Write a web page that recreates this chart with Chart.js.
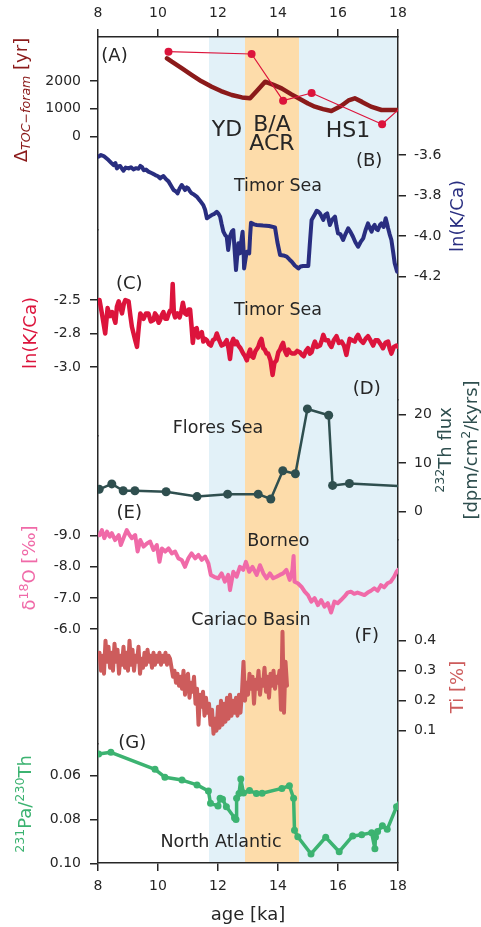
<!DOCTYPE html>
<html><head><meta charset="utf-8">
<script src="https://cdn.jsdelivr.net/npm/chart.js@4.4.1/dist/chart.umd.min.js"></script>
<style>html,body{margin:0;padding:0;background:#fff;}canvas{display:block;}</style>
</head><body>
<canvas id="c" width="481" height="927"></canvas>
<script>
// ---------------- DATA ----------------
const ageTicks = [8, 10, 12, 14, 16, 18];
const shadeBlue = [11.7, 18];
const shadeOrange = [12.9, 14.7];

// (A) Delta TOC-foram
const ageAforam = [10.35, 13.12, 14.17, 15.12, 17.47, 18.35];
const deltaAforam = [3052, 2970, 1293, 1569, 445, 1300];
const ageAsmooth = [10.30, 10.46, 10.80, 11.13, 11.45, 11.79, 12.10, 12.46, 12.80, 13.07, 13.30, 13.57, 13.85, 14.12, 14.45, 14.79, 15.00, 15.23, 15.50, 15.78, 16.10, 16.35, 16.56, 16.80, 17.10, 17.45, 17.95, 18.30];
const deltaAsmooth = [2815, 2693, 2450, 2215, 1990, 1795, 1640, 1497, 1410, 1378, 1650, 1975, 1860, 1736, 1520, 1318, 1190, 1077, 990, 923, 1100, 1300, 1378, 1250, 1080, 959, 959, 960];
const ticksA = [0, 1000, 2000];
const labelsA = ['0', '1000', '2000'];

// (B) Timor Sea ln(K/Ca)
const ageB = [8.02,8.10,8.19,8.27,8.35,8.45,8.52,8.58,8.63,8.69,8.74,8.80,8.85,8.92,9.02,9.10,9.18,9.27,9.35,9.41,9.47,9.52,9.60,9.68,9.80,9.91,10.00,10.07,10.13,10.18,10.27,10.35,10.45,10.52,10.60,10.65,10.72,10.79,10.85,10.90,10.96,11.01,11.07,11.12,11.20,11.29,11.40,11.51,11.57,11.63,11.70,11.79,11.88,11.96,12.02,12.07,12.12,12.18,12.24,12.29,12.34,12.40,12.46,12.51,12.55,12.60,12.64,12.68,12.73,12.78,12.82,12.85,12.87,12.92,12.96,13.04,13.07,13.10,13.20,13.29,13.50,13.70,13.90,13.98,14.07,14.18,14.29,14.38,14.46,14.56,14.68,14.75,14.84,15.01,15.06,15.12,15.20,15.29,15.35,15.40,15.46,15.51,15.57,15.64,15.69,15.73,15.80,15.90,15.95,16.00,16.08,16.17,16.25,16.34,16.42,16.50,16.58,16.67,16.75,16.84,16.92,17.00,17.06,17.12,17.17,17.22,17.28,17.33,17.40,17.45,17.52,17.59,17.63,17.67,17.72,17.78,17.84,17.89,17.97,18.05];
const kcaB = [-3.608,-3.600,-3.605,-3.615,-3.625,-3.640,-3.650,-3.640,-3.666,-3.655,-3.654,-3.668,-3.677,-3.662,-3.666,-3.660,-3.671,-3.665,-3.668,-3.654,-3.660,-3.675,-3.672,-3.682,-3.690,-3.699,-3.705,-3.715,-3.708,-3.704,-3.720,-3.730,-3.755,-3.773,-3.780,-3.789,-3.765,-3.748,-3.760,-3.773,-3.760,-3.765,-3.780,-3.789,-3.795,-3.805,-3.825,-3.847,-3.870,-3.912,-3.905,-3.896,-3.890,-3.880,-3.890,-3.904,-3.940,-3.978,-3.995,-4.003,-4.068,-4.000,-3.978,-3.970,-4.060,-4.167,-4.100,-4.035,-4.085,-4.020,-3.978,-4.060,-4.159,-4.110,-4.077,-4.085,-4.000,-3.934,-3.942,-3.945,-3.948,-3.950,-3.957,-4.030,-4.093,-4.095,-4.101,-4.115,-4.126,-4.145,-4.159,-4.150,-4.147,-4.147,-4.040,-3.920,-3.900,-3.875,-3.880,-3.888,-3.905,-3.920,-3.895,-3.888,-3.920,-3.945,-3.920,-3.904,-3.950,-3.986,-3.990,-4.019,-3.990,-3.961,-3.980,-4.003,-4.030,-4.052,-4.030,-4.011,-3.970,-3.937,-3.960,-3.978,-3.955,-3.945,-3.965,-3.970,-3.945,-3.937,-3.955,-3.912,-3.935,-3.961,-3.990,-4.019,-4.080,-4.134,-4.175,-4.175];
const ticksB = [-3.6, -3.8, -4.0, -4.2];
const labelsB = ['-3.6', '-3.8', '-4.0', '-4.2'];

// (C) Timor Sea ln(K/Ca)
const ageC = [8.05,8.13,8.24,8.32,8.40,8.47,8.58,8.63,8.69,8.80,8.86,8.91,9.02,9.08,9.13,9.24,9.30,9.36,9.41,9.52,9.60,9.68,9.76,9.85,9.90,9.96,10.02,10.07,10.13,10.18,10.24,10.30,10.36,10.40,10.45,10.49,10.53,10.57,10.65,10.72,10.78,10.83,10.90,10.96,11.02,11.07,11.12,11.16,11.22,11.29,11.34,11.40,11.46,11.51,11.57,11.63,11.70,11.76,11.83,11.90,11.96,12.04,12.12,12.20,12.29,12.35,12.40,12.46,12.51,12.57,12.62,12.68,12.75,12.84,12.90,12.96,13.02,13.07,13.12,13.18,13.25,13.34,13.40,13.45,13.51,13.56,13.62,13.67,13.75,13.82,13.88,13.95,14.01,14.07,14.12,14.17,14.23,14.29,14.35,14.40,14.48,14.56,14.64,14.73,14.80,14.86,14.93,15.00,15.06,15.12,15.18,15.23,15.30,15.40,15.46,15.51,15.58,15.67,15.72,15.78,15.86,15.95,16.03,16.12,16.20,16.28,16.33,16.39,16.47,16.56,16.61,16.67,16.75,16.84,16.92,17.00,17.08,17.17,17.25,17.33,17.42,17.50,17.58,17.67,17.72,17.78,17.86,17.95,18.00];
const kcaC = [-2.50,-2.60,-2.75,-2.56,-2.62,-2.59,-2.67,-2.55,-2.51,-2.60,-2.53,-2.50,-2.51,-2.62,-2.70,-2.80,-2.85,-2.70,-2.60,-2.64,-2.60,-2.60,-2.66,-2.65,-2.60,-2.62,-2.67,-2.65,-2.61,-2.59,-2.64,-2.64,-2.60,-2.58,-2.58,-2.38,-2.60,-2.63,-2.60,-2.63,-2.58,-2.52,-2.60,-2.61,-2.57,-2.57,-2.70,-2.82,-2.72,-2.71,-2.78,-2.76,-2.74,-2.81,-2.79,-2.80,-2.83,-2.84,-2.80,-2.79,-2.75,-2.80,-2.84,-2.83,-2.80,-2.86,-2.94,-2.82,-2.79,-2.83,-2.81,-2.84,-2.86,-2.90,-2.92,-2.95,-2.90,-2.87,-2.92,-2.93,-2.88,-2.85,-2.81,-2.79,-2.86,-2.87,-2.90,-2.90,-2.95,-3.06,-2.97,-2.95,-2.89,-2.87,-2.84,-2.82,-2.88,-2.91,-2.87,-2.89,-2.90,-2.90,-2.88,-2.89,-2.91,-2.92,-2.88,-2.86,-2.90,-2.89,-2.84,-2.81,-2.85,-2.84,-2.80,-2.76,-2.80,-2.80,-2.83,-2.85,-2.80,-2.77,-2.82,-2.81,-2.84,-2.91,-2.85,-2.79,-2.80,-2.81,-2.78,-2.76,-2.80,-2.82,-2.79,-2.77,-2.80,-2.84,-2.80,-2.80,-2.83,-2.86,-2.82,-2.81,-2.86,-2.90,-2.85,-2.84,-2.85];
const ticksC = [-2.5, -2.75, -3.0];
const labelsC = ['-2.5', '-2.8', '-3.0'];

// (D) Flores Sea 232Th flux
const ageD = [8.04, 8.46, 8.84, 9.23, 10.27, 11.30, 12.32, 13.34, 13.76, 14.16, 14.58, 14.98, 15.69, 15.82, 16.38, 18.60];
const thD = [4.6, 5.7, 4.3, 4.3, 4.1, 3.1, 3.6, 3.6, 2.6, 8.4, 7.8, 21.1, 19.8, 5.4, 5.8, 5.1];
const ticksD = [0, 10, 20];
const labelsD = ['0', '10', '20'];

// (E) Borneo d18O
const ageE = [8.05,8.13,8.21,8.30,8.39,8.46,8.57,8.69,8.76,8.87,8.96,9.05,9.13,9.24,9.32,9.41,9.52,9.63,9.74,9.85,9.96,10.05,10.13,10.24,10.35,10.46,10.57,10.68,10.79,10.90,11.01,11.12,11.24,11.35,11.46,11.57,11.68,11.76,11.87,12.01,12.12,12.23,12.34,12.40,12.51,12.62,12.73,12.84,12.93,13.04,13.15,13.29,13.40,13.51,13.62,13.73,13.84,13.95,14.06,14.17,14.28,14.39,14.48,14.52,14.55,14.66,14.78,14.89,15.00,15.11,15.22,15.33,15.44,15.55,15.66,15.77,15.88,15.99,16.10,16.21,16.32,16.43,16.54,16.65,16.77,16.88,16.99,17.10,17.21,17.32,17.43,17.54,17.65,17.76,17.87,17.95,18.00];
const d18oE = [-9.02,-9.18,-8.92,-9.13,-8.97,-9.08,-8.86,-9.02,-8.70,-8.97,-9.18,-9.02,-8.92,-9.02,-8.49,-8.86,-8.65,-8.75,-8.81,-8.54,-8.70,-8.16,-8.59,-8.49,-8.59,-8.43,-8.49,-8.27,-8.22,-8.00,-8.27,-8.43,-8.27,-8.38,-8.22,-8.33,-8.11,-7.74,-7.68,-7.63,-7.79,-7.52,-7.74,-7.25,-7.84,-7.68,-8.00,-7.90,-8.16,-7.84,-8.00,-7.74,-8.05,-7.79,-7.63,-7.79,-7.63,-7.68,-7.74,-7.79,-7.90,-7.58,-7.90,-8.35,-7.52,-7.47,-7.36,-7.20,-7.09,-6.88,-6.99,-6.77,-6.93,-6.72,-6.83,-6.53,-6.88,-6.83,-6.93,-7.04,-7.17,-7.20,-7.13,-7.17,-7.13,-7.09,-7.17,-7.23,-7.31,-7.23,-7.41,-7.34,-7.47,-7.52,-7.68,-7.84,-7.90];
const ticksE = [-9, -8, -7, -6];
const labelsE = ['-9.0', '-8.0', '-7.0', '-6.0'];

// (F) Cariaco Basin Ti
const ageF = [8.05,8.10,8.15,8.20,8.25,8.30,8.35,8.40,8.45,8.50,8.55,8.60,8.65,8.70,8.75,8.80,8.85,8.90,8.95,9.00,9.05,9.10,9.15,9.20,9.25,9.30,9.35,9.40,9.45,9.50,9.55,9.60,9.65,9.70,9.75,9.80,9.85,9.90,9.95,10.00,10.05,10.10,10.15,10.20,10.25,10.30,10.35,10.40,10.45,10.50,10.55,10.60,10.65,10.70,10.75,10.80,10.85,10.90,10.95,11.00,11.05,11.10,11.15,11.20,11.25,11.30,11.35,11.40,11.45,11.50,11.55,11.60,11.65,11.70,11.75,11.80,11.85,11.90,11.95,12.00,12.05,12.10,12.15,12.20,12.25,12.30,12.35,12.40,12.45,12.50,12.55,12.60,12.65,12.70,12.75,12.80,12.85,12.90,12.95,13.00,13.05,13.10,13.15,13.20,13.25,13.30,13.35,13.40,13.45,13.50,13.55,13.60,13.65,13.70,13.75,13.80,13.85,13.90,13.95,14.00,14.05,14.10,14.15,14.20,14.25,14.30];
const tiF = [0.36,0.30,0.35,0.29,0.40,0.33,0.38,0.31, 0.36,0.30,0.39,0.33,0.37,0.29,0.35,0.32, 0.38,0.31,0.36,0.30,0.40,0.32,0.37,0.30, 0.35,0.33,0.38,0.29,0.34,0.31,0.36,0.32, 0.37,0.33,0.35,0.31,0.36,0.32,0.35,0.33, 0.36,0.32,0.35,0.33,0.36,0.32,0.35,0.34, 0.31,0.28,0.30,0.26,0.29,0.25,0.28,0.24, 0.30,0.22,0.27,0.29,0.21,0.26,0.23,0.28, 0.19,0.24,0.12,0.22,0.18,0.23,0.15,0.21, 0.16,0.19,0.12,0.17,0.09,0.14,0.10,0.18, 0.11,0.20,0.12,0.19,0.13,0.21,0.14,0.22, 0.15,0.20,0.16,0.21,0.15,0.22,0.16,0.23, 0.33,0.20,0.26,0.22,0.29,0.24,0.28,0.19, 0.27,0.24,0.30,0.22,0.27,0.25,0.31,0.23, 0.28,0.21,0.29,0.25,0.30,0.24,0.28,0.26, 0.30,0.17,0.43,0.16,0.33,0.25];
const ticksF = [0.1, 0.2, 0.3, 0.4];
const labelsF = ['0.1', '0.2', '0.3', '0.4'];

// (G) North Atlantic 231Pa/230Th
const ageG = [8.02,8.43,9.90,10.23,10.80,11.30,11.68,11.75,12.00,12.07,12.15,12.28,12.55,12.60,12.62,12.70,12.76,12.85,13.05,13.28,13.47,14.13,14.38,14.52,14.55,14.66,15.10,15.59,16.04,16.49,16.79,17.12,17.23,17.25,17.32,17.48,17.64,17.95,18.20];
const paG = [0.0501,0.0493,0.0571,0.0607,0.0620,0.0642,0.0670,0.0726,0.0738,0.0703,0.0707,0.0742,0.0792,0.0800,0.0703,0.0681,0.0615,0.0679,0.0668,0.0681,0.0680,0.0658,0.0646,0.0703,0.0849,0.0879,0.0957,0.0881,0.0947,0.0875,0.0870,0.0860,0.0933,0.0880,0.0855,0.0829,0.0845,0.0742,0.0680];
const ticksG = [0.06, 0.08, 0.10];
const labelsG = ['0.06', '0.08', '0.10'];

// ---------------- STYLE / LAYOUT ----------------
const INK = '#262626';
const FONT = "'DejaVu Sans', sans-serif";
const C_DARKRED = '#8b1a1a', C_CRIMSON = '#dc143c', C_NAVY = '#292e80', C_SLATE = '#2f4f4f',
      C_PINK = '#f06aa8', C_INDIAN = '#cd5c5c', C_GREEN = '#3cb371';
const LEFT_W = 98, RIGHT_W = 83, TOP_H = 37, BOTTOM_H = 64;
Chart.defaults.font.family = FONT;

function yAxis(position, band, order, anchor, tVals, tLabels) {
  const [v1, p1, v2, p2] = anchor;
  const k = (v2 - v1) / (p2 - p1);
  const vTop = v1 + (band[0] - p1) * k;
  const vBot = v1 + (band[1] - p1) * k;
  return {
    type: 'linear', position, stack: position === 'left' ? 'L' : 'R',
    stackWeight: band[1] - band[0], weight: order,
    min: Math.min(vTop, vBot), max: Math.max(vTop, vBot), reverse: vTop < vBot, clip: false,
    afterBuildTicks: s => { s.ticks = tVals.map(v => ({value: v})); },
    afterFit: s => { s.width = position === 'left' ? LEFT_W : RIGHT_W; },
    ticks: {autoSkip: false, callback: (v, i) => tLabels[i], color: INK,
            font: {family: FONT, size: 14}, padding: position === 'left' ? 9 : 8},
    grid: {drawOnChartArea: false, drawTicks: true, tickLength: 8, color: INK, lineWidth: 1.5},
    border: {display: true, color: INK, width: 1.5},
    title: {display: false}
  };
}
function xAxis(position) {
  return {
    type: 'linear', position, min: 8, max: 18,
    afterBuildTicks: s => { s.ticks = ageTicks.map(v => ({value: v})); },
    afterFit: s => { s.height = position === 'top' ? TOP_H : BOTTOM_H; },
    ticks: {autoSkip: false, maxRotation: 0, color: INK, font: {family: FONT, size: 14}, padding: 7,
            callback: v => String(v)},
    grid: {drawOnChartArea: false, drawTicks: true, tickLength: 8, color: INK, lineWidth: 1.5},
    border: {display: true, color: INK, width: 1.5},
    title: position === 'bottom' ? {display: true, text: 'age [ka]', color: INK,
            font: {family: FONT, size: 18}, padding: {top: 0, bottom: 1}} : {display: false}
  };
}

const pts = (xs, ys) => xs.map((x, i) => ({x, y: ys[i]}));
function line(label, xs, ys, yID, color, width, radius) {
  return {label, data: pts(xs, ys), xAxisID: 'x', yAxisID: yID, borderColor: color,
    backgroundColor: color, borderWidth: width, pointRadius: radius || 0, pointHoverRadius: radius || 0,
    pointBorderWidth: 0, pointBackgroundColor: color, borderJoinStyle: 'round', borderCapStyle: 'round',
    tension: 0, fill: false};
}

const annotations = [
  {t: '(A)', ax: 'yA', x: 8.11, y: 2898, s: 18, align: 'left'},
  {t: 'YD', ax: 'yA', x: 12.30, y: 241, s: 22},
  {t: 'B/A', ax: 'yA', x: 13.80, y: 420, s: 22},
  {t: 'ACR', ax: 'yA', x: 13.80, y: -280, s: 22},
  {t: 'HS1', ax: 'yA', x: 16.33, y: 205, s: 22},
  {t: '(B)', ax: 'yB', x: 17.04, y: -3.63, s: 18},
  {t: 'Timor Sea', ax: 'yB', x: 14.0, y: -3.753, s: 17.5},
  {t: '(C)', ax: 'yC', x: 9.04, y: -2.381, s: 18},
  {t: 'Timor Sea', ax: 'yC', x: 14.0, y: -2.575, s: 17.5},
  {t: '(D)', ax: 'yD', x: 16.96, y: 25.2, s: 18},
  {t: 'Flores Sea', ax: 'yD', x: 12.0, y: 17.0, s: 17.5},
  {t: '(E)', ax: 'yE', x: 9.04, y: -9.73, s: 18},
  {t: 'Borneo', ax: 'yE', x: 14.01, y: -8.81, s: 17.5},
  {t: 'Cariaco Basin', ax: 'yE', x: 13.10, y: -6.26, s: 17.5},
  {t: '(F)', ax: 'yF', x: 16.96, y: 0.416, s: 18},
  {t: '(G)', ax: 'yG', x: 9.14, y: 0.0451, s: 18},
  {t: 'North Atlantic', ax: 'yG', x: 12.10, y: 0.0903, s: 17.5}
];

// axis titles: [segments], screen centre, colour
const axisTitles = [
  {segs: [['Δ'], ['TOC−foram', 'sub', 'italic'], [' [yr]']], x: 22, y: 100, c: C_DARKRED},
  {segs: [['ln(K/Ca)']], x: 458, y: 216, c: C_NAVY},
  {segs: [['ln(K/Ca)']], x: 31, y: 333, c: C_CRIMSON},
  {segs: [['232', 'sup'], ['Th flux']], x: 446, y: 450, c: C_SLATE},
  {segs: [['[dpm/cm'], ['2', 'sup'], ['/kyrs]']], x: 472, y: 450, c: C_SLATE},
  {segs: [['δ'], ['18', 'sup'], ['O [‰]']], x: 30, y: 568, c: C_PINK},
  {segs: [['Ti [%]']], x: 458, y: 687, c: C_INDIAN},
  {segs: [['231', 'sup'], ['Pa/'], ['230', 'sup'], ['Th']], x: 26, y: 804, c: C_GREEN}
];

function drawRich(ctx, segs, cx, cy, size, color) {
  ctx.save();
  ctx.translate(cx, cy);
  ctx.rotate(-Math.PI / 2);
  ctx.fillStyle = color; ctx.textBaseline = 'middle'; ctx.textAlign = 'left';
  const parts = segs.map(([t, kind, style]) => {
    const fs = kind ? size * 0.7 : size;
    const font = (style === 'italic' ? 'italic ' : '') + fs + 'px ' + FONT;
    ctx.font = font;
    return {t, font, w: ctx.measureText(t).width,
            dy: kind === 'sub' ? size * 0.25 : kind === 'sup' ? -size * 0.3 : 0};
  });
  const total = parts.reduce((a, p) => a + p.w, 0);
  let x = -total / 2;
  for (const p of parts) { ctx.font = p.font; ctx.fillText(p.t, x, p.dy); x += p.w; }
  ctx.restore();
}

const decor = {
  id: 'decor',
  beforeDraw(chart) {
    const {ctx, chartArea: a, scales} = chart;
    ctx.save();
    ctx.fillStyle = '#ffffff';
    ctx.fillRect(0, 0, chart.width, chart.height);
    const xs = scales.x;
    const band = (r, col) => {
      const x0 = xs.getPixelForValue(r[0]), x1 = xs.getPixelForValue(r[1]);
      ctx.fillStyle = col; ctx.fillRect(x0, a.top, x1 - x0, a.bottom - a.top);
    };
    band(shadeBlue, '#e2f1f8');
    band(shadeOrange, '#fddcaa');
    ctx.restore();
  },
  afterDatasetsDraw(chart) {
    const {ctx, scales} = chart;
    ctx.save();
    ctx.fillStyle = INK;
    ctx.textBaseline = 'middle';
    for (const an of annotations) {
      ctx.font = an.s + 'px ' + FONT;
      ctx.textAlign = an.align || 'center';
      ctx.fillText(an.t, scales.x.getPixelForValue(an.x), scales[an.ax].getPixelForValue(an.y));
    }
    ctx.restore();
  },
  afterDraw(chart) {
    for (const t of axisTitles) drawRich(chart.ctx, t.segs, t.x, t.y, 18, t.c);
  }
};

new Chart(document.getElementById('c'), {
  type: 'line',
  data: {
    datasets: [
      line('A foram', ageAforam, deltaAforam, 'yA', C_CRIMSON, 1.2, 4),
      line('A smooth', ageAsmooth, deltaAsmooth, 'yA', C_DARKRED, 4.5, 0),
      line('B', ageB, kcaB, 'yB', C_NAVY, 4, 0),
      line('C', ageC, kcaC, 'yC', C_CRIMSON, 4.5, 0),
      line('D', ageD, thD, 'yD', C_SLATE, 2.5, 4.5),
      line('E', ageE, d18oE, 'yE', C_PINK, 4, 0),
      line('F', ageF, tiF, 'yF', C_INDIAN, 4, 0),
      line('G', ageG, paG, 'yG', C_GREEN, 3.5, 3.5)
    ]
  },
  options: {
    responsive: false, animation: false, events: [],
    layout: {padding: 0},
    plugins: {legend: {display: false}, tooltip: {enabled: false}},
    scales: {
      x: xAxis('bottom'),
      x2: xAxis('top'),
      yA: yAxis('left', [37, 230], 4, [0, 136.7, 2000, 81], ticksA, labelsA),
      yC: yAxis('left', [230, 436], 3, [-2.5, 300, -3.0, 367], ticksC, labelsC),
      yE: yAxis('left', [436, 744], 2, [-9, 535.7, -6, 629], ticksE, labelsE),
      yG: yAxis('left', [744, 863], 1, [0.06, 775.7, 0.10, 863.3], ticksG, labelsG),
      yB: yAxis('right', [37, 400], 1, [-3.6, 155, -4.2, 276.7], ticksB, labelsB),
      yD: yAxis('right', [400, 540], 2, [20, 414.3, 0, 511.7], ticksD, labelsD),
      yF: yAxis('right', [540, 863], 3, [0.4, 640.7, 0.1, 730.7], ticksF, labelsF)
    }
  },
  plugins: [decor]
});
</script>
</body></html>
